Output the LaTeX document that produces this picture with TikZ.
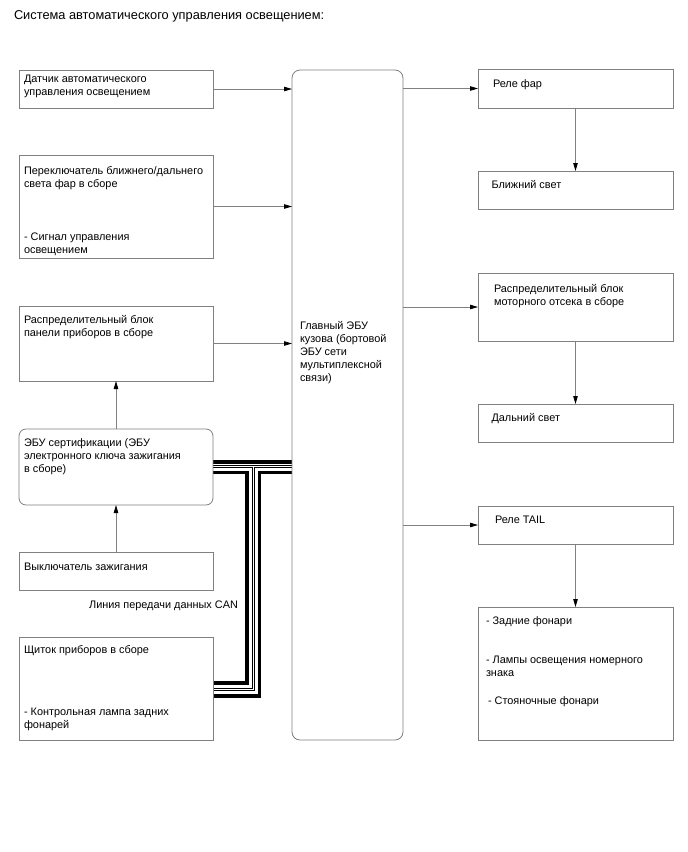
\documentclass[tikz,border=0pt]{standalone}
\usepackage{fontspec}
\setmainfont{Liberation Sans}
\usetikzlibrary{arrows.meta,backgrounds}
\definecolor{boxgray}{RGB}{128,128,128}
\begin{document}
\begin{tikzpicture}[x=1pt,y=-1pt,
  box/.style={draw=boxgray, line width=0.8pt, anchor=north west, inner sep=0pt, outer sep=0pt},
  txt/.style={anchor=north west, inner sep=0pt, outer sep=0pt, align=left, font=\fontsize{10.9}{13}\selectfont},
  arr/.style={draw=boxgray, line width=0.8pt, -{Triangle[length=8pt,width=4.5pt,color=black]}},
  thickbus/.style={draw=black, line width=3.2pt},
  thinouter/.style={draw=black, line width=3.6pt},
  thininner/.style={draw=white, line width=1.4pt}]
\useasboundingbox (0,0) rectangle (688,852);

% title
\node[txt, font=\fontsize{12.8}{15}\selectfont] (title) at (14,11) {Система автоматического управления освещением:};

% left boxes
\node[box, minimum width=194pt, minimum height=38pt] (b1) at (19,70) {};
\node[box, minimum width=194pt, minimum height=103pt] (b2) at (19,155) {};
\node[box, minimum width=194pt, minimum height=75pt] (b3) at (19,306) {};
\node[box, minimum width=194pt, minimum height=76pt, rounded corners=7pt] (b4) at (19,429) {};
\node[box, minimum width=194pt, minimum height=38pt] (b5) at (19,552) {};
\node[box, minimum width=194pt, minimum height=103pt] (b6) at (19,637) {};

% main ECU
\node[box, minimum width=111pt, minimum height=670pt, rounded corners=8pt] (main) at (292,70) {};

% right boxes
\node[box, minimum width=195pt, minimum height=39pt] (r1) at (478,69) {};
\node[box, minimum width=195pt, minimum height=38pt] (r2) at (478,171) {};
\node[box, minimum width=195pt, minimum height=68pt] (r3) at (478,273) {};
\node[box, minimum width=195pt, minimum height=38pt] (r4) at (478,404) {};
\node[box, minimum width=195pt, minimum height=38pt] (r5) at (478,506) {};
\node[box, minimum width=195pt, minimum height=133pt] (r6) at (478,607) {};

% texts
\node[txt] (t1) at (24,75) {Датчик автоматического\\управления освещением};
\node[txt] (t2a) at (24,166.5) {Переключатель ближнего/дальнего\\света фар в сборе};
\node[txt] (t2b) at (24,233) {- Сигнал управления\\освещением};
\node[txt] (t3) at (24,315) {Распределительный блок\\панели приборов в сборе};
\node[txt] (t4) at (24,439) {ЭБУ сертификации (ЭБУ\\электронного ключа зажигания\\в сборе)};
\node[txt] (t5) at (24,562.5) {Выключатель зажигания};
\node[txt, anchor=north east] (tcan) at (238,601) {Линия передачи данных CAN};
\node[txt] (t6a) at (24,645) {Щиток приборов в сборе};
\node[txt] (t6b) at (24,708) {- Контрольная лампа задних\\фонарей};
\node[txt] (tm) at (300,321.5) {Главный ЭБУ\\кузова (бортовой\\ЭБУ сети\\мультиплексной\\связи)};
\node[txt] (tr1) at (493,80) {Реле фар};
\node[txt] (tr2) at (491.5,180) {Ближний свет};
\node[txt] (tr3) at (494,284) {Распределительный блок\\моторного отсека в сборе};
\node[txt] (tr4) at (491.5,413) {Дальний свет};
\node[txt] (tr5) at (495,515.5) {Реле TAIL};
\node[txt] (tr6a) at (486,617) {- Задние фонари};
\node[txt] (tr6b) at (486,656) {- Лампы освещения номерного\\знака};
\node[txt] (tr6c) at (488,697) {- Стояночные фонари};

% arrows into main
\draw[arr] (b1.east) -- (b1.east -| main.west);
\draw[arr] (b2.east) -- (b2.east -| main.west);
\draw[arr] (b3.east) -- (b3.east -| main.west);
\draw[arr] (b4.north) -- (b3.south);
\draw[arr] (b5.north) -- (b4.south);

% arrows out of main
\draw[arr] (r1.west -| main.east) -- (r1.west);
\draw[arr] (r3.west -| main.east) -- (r3.west);
\draw[arr] (r5.west -| main.east) -- (r5.west);
\draw[arr] (r1.south) -- (r2.north);
\draw[arr] (r3.south) -- (r4.north);
\draw[arr] (r5.south) -- (r6.north);

% CAN bus
\coordinate (yA) at (0,462);
\coordinate (yB) at (0,466.3);
\coordinate (yC) at (0,472.3);
\coordinate (yD) at (0,683);
\coordinate (yE) at (0,689.3);
\coordinate (yF) at (0,696);
\coordinate (xL) at (247,0);
\coordinate (xM) at (253.3,0);
\coordinate (xR) at (259.7,0);
\begin{scope}[on background layer]
\draw[thickbus] (b4.east |- yA) -- (main.west |- yA);
\draw[thickbus] (b4.east |- yC) -- (xL |- yC) -- (xL |- yD) -- (b6.east |- yD);
\draw[thickbus] (main.west |- yC) -- (xR |- yC) -- (xR |- yF) -- (b6.east |- yF);
\draw[thinouter] (b4.east |- yB) -- (main.west |- yB) (xM |- yB) -- (xM |- yE) -- (b6.east |- yE);
\draw[thininner] (b4.east |- yB) -- (main.west |- yB) (xM |- yB) -- (xM |- yE) -- (b6.east |- yE);
\end{scope}
\end{tikzpicture}
\end{document}
